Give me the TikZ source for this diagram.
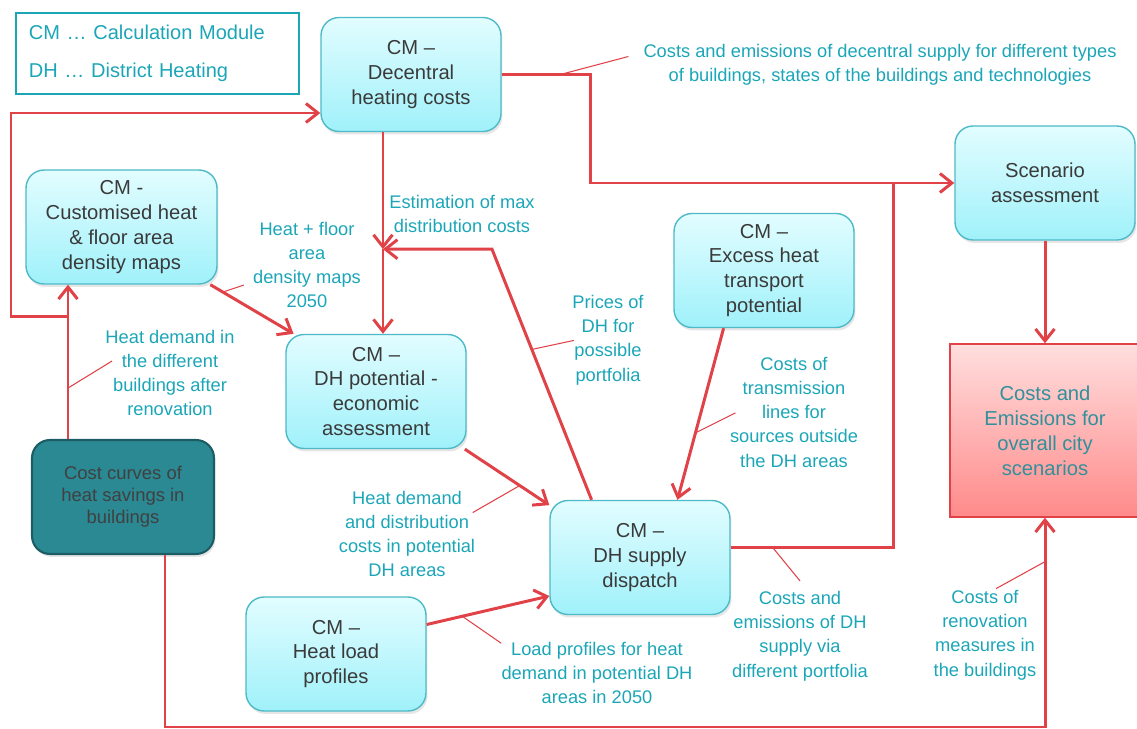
\documentclass[tikz,border=0pt]{standalone}
\usepackage{fontspec}
\setmainfont{Liberation Sans}
\usepackage{tikz}
\usetikzlibrary{arrows.meta, positioning, calc, shadows}
\definecolor{cmteal}{RGB}{27, 166, 184}
\definecolor{cmedge}{RGB}{78, 186, 200}
\definecolor{cmtop}{RGB}{226, 253, 255}
\definecolor{cmbottom}{RGB}{160, 241, 250}
\definecolor{flowred}{RGB}{224, 66, 72}
\definecolor{savingteal}{RGB}{43, 137, 148}
\definecolor{savingedge}{RGB}{28, 92, 100}
\definecolor{resulttop}{RGB}{255, 222, 222}
\definecolor{resultbottom}{RGB}{255, 138, 138}
\definecolor{resulttext}{RGB}{48, 144, 156}
\definecolor{boxgray}{RGB}{58, 58, 58}

\begin{document}
\begin{tikzpicture}[
    x=0.02cm, y=-0.02cm,
    module/.style={rectangle, rounded corners=0.36cm, draw=cmedge, line width=0.8pt,
        top color=cmtop, bottom color=cmbottom, minimum width=3.6cm, minimum height=2.28cm,
        align=center, text=boxgray, font=\fontsize{11.5}{14.2}\selectfont,
        drop shadow={opacity=0.2, shadow xshift=0.03cm, shadow yshift=-0.06cm}},
    saving/.style={module, draw=savingedge, line width=1.2pt, top color=savingteal,
        bottom color=savingteal, text=black!75, font=\fontsize{10.5}{12.6}\selectfont},
    result/.style={rectangle, draw=flowred, line width=0.8pt, top color=resulttop,
        bottom color=resultbottom, minimum width=3.8cm, minimum height=3.46cm,
        align=center, text=resulttext, font=\fontsize{11.5}{14.2}\selectfont},
    legendbox/.style={rectangle, draw=cmteal, line width=1pt, text=cmteal, align=left,
        font=\fontsize{11.4}{14.2}\selectfont},
    flow/.style={draw=flowred, line width=1.7pt, -{Straight Barb[length=2.4mm, width=3.8mm]}},
    feed/.style={draw=flowred, line width=1.7pt},
    leader/.style={draw=flowred, line width=0.6pt},
    lbl/.style={text=cmteal, align=center, font=\fontsize{10.4}{13.8}\selectfont}
]
\useasboundingbox (0,0) rectangle (1137,729);

% Legend
\node[legendbox, anchor=north west, text width=5.14cm, inner xsep=0.26cm, minimum height=1.62cm] (key) at (15,12)
    {CM … Calculation Module\\[0.26cm]DH … District Heating};

% Modules
\node[module] (dec) at (411,74.5) {CM –\\Decentral\\heating costs};
\node[module, minimum width=3.82cm] (cust) at (121.5,227) {CM -\\Customised heat\\\& floor area\\density maps};
\node[module] (dhpot) at (376,391.5) {CM –\\DH potential -\\economic\\assessment};
\node[module] (excess) at (764,270.5) {CM –\\Excess heat\\transport\\potential};
\node[module] (scen) at (1045,183) {Scenario\\assessment};
\node[module] (supply) at (640,557.5) {CM –\\DH supply\\dispatch};
\node[module] (load) at (336,654) {CM –\\Heat load\\profiles};
\node[saving, minimum width=3.64cm] (curves) at (123,497) {Cost curves of\\heat savings in\\buildings};
\node[result] (total) at (1045,430.5) {Costs and\\Emissions for\\overall city\\scenarios};

% Heat demand after renovation
\coordinate (renov) at ($(curves.north)+(-55,0)$);
\coordinate (loop) at ($(renov)+(0,-122)$);
\draw[flow] (renov) -- coordinate[pos=0.33] (rn) (renov |- cust.south);
\draw[flow] (loop) -| (11,113) -- (11,113 -| dec.west);
\node[lbl] (lren) at (170,373) {Heat demand in\\the different\\buildings after\\renovation};
\draw[leader] (rn) -- ++(44,-27);

% Renovation costs
\coordinate (cb) at ($(curves.south)+(42,0)$);
\draw[flow] (cb) -- (cb |- 0,727) -| coordinate[pos=0.895] (rc) (total.south);
\node[lbl] (lcost) at (985,635) {Costs of\\renovation\\measures in\\the buildings};
\draw[leader] (rc) -- ++(-49,27);

% Decentral supply to scenarios
\coordinate (dc) at ($(dec.east)+(89,0)$);
\draw[flow] (dec.east) -- coordinate[pos=0.66] (dn) (dc) |- (scen.west);
\node[lbl] (ldec) at (880,65) {Costs and emissions of decentral supply for different types\\of buildings, states of the buildings and technologies};
\draw[leader] (dn) -- ++(68,-18);

% DH supply to scenarios
\coordinate (sj) at ($(dc |- scen.west)+(303,0)$);
\draw[feed] (supply.6) -- coordinate[pos=0.26] (sn) (supply.6 -| sj) -- (sj);
\node[lbl] (lsup) at (800,636) {Costs and\\emissions of DH\\supply via\\different portfolia};
\draw[leader] (sn) -- ++(27,33);

% Max distribution costs
\coordinate (ds) at ($(dec.south)+(-28,0)$);
\coordinate (est) at ($(ds)+(0,117)$);
\draw[flow] (ds) -- (est);
\draw[flow] (est) -- (est |- dhpot.north);
\node[lbl] (lest) at (462,214) {Estimation of max\\distribution costs};

% Prices back from dispatch
\coordinate (kink) at ($(est)+(109,0)$);
\draw[flow] (supply.130) -- coordinate[pos=0.6] (pn) (kink) -- (est);
\node[lbl] (lpri) at (608,340) {Prices of\\DH for\\possible\\portfolia};
\draw[leader] (pn) -- ++(42,-9);

% Density maps
\draw[flow] (cust.327) -- coordinate[pos=0.15] (hn) (dhpot.145);
\node[lbl] (lmap) at (307,265) {Heat + floor\\area\\density maps\\2050};
\draw[leader] (hn) -- ++(21,-7);

% Transmission lines
\draw[flow] (excess.235) -- coordinate[pos=0.61] (tn) (supply.57);
\node[lbl] (ltra) at (794,412) {Costs of\\transmission\\lines for\\sources outside\\the DH areas};
\draw[leader] (tn) -- ++(40,-20);

% Heat demand and distribution costs
\draw[flow] (dhpot.327) -- coordinate[pos=0.65] (hd) (supply.150);
\node[lbl] (ldis) at (407,534) {Heat demand\\and distribution\\costs in potential\\DH areas};
\draw[leader] (hd) -- ++(-47,27);

% Load profiles
\draw[flow] (load.18) -- coordinate[pos=0.29] (ln) (supply.203);
\node[lbl] (lload) at (597,673) {Load profiles for heat\\demand in potential DH\\areas in 2050};
\draw[leader] (ln) -- ++(39,27);

% Scenario results
\draw[flow] (scen.south) -- (total.north);

\end{tikzpicture}
\end{document}
